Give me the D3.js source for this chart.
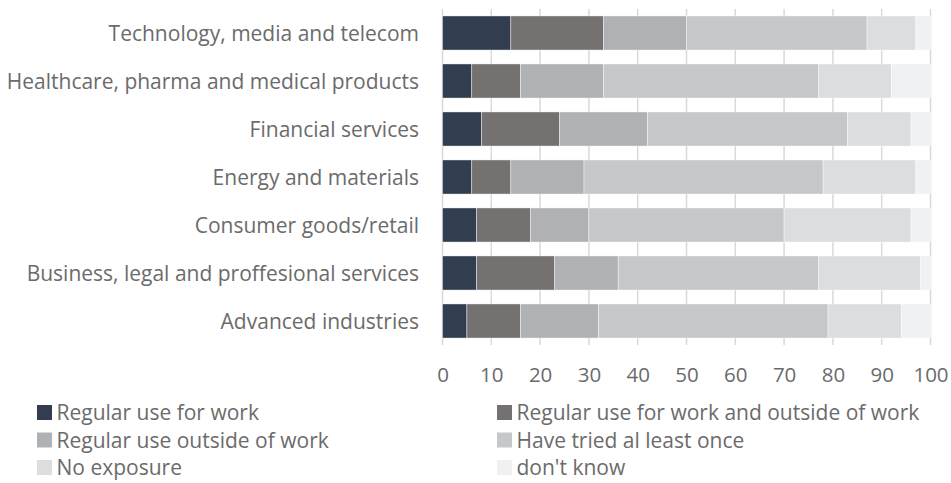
<!DOCTYPE html>
<html>
<head>
<meta charset="utf-8">
<script src="https://cdn.jsdelivr.net/npm/d3@7"></script>
<style>
  html, body { margin: 0; padding: 0; background: #fff; }
  svg { display: block; }
  text { font-family: "Open Sans", Lato, sans-serif; fill: #6b6b6b; }
</style>
</head>
<body>
<svg id="chart" width="951" height="483"></svg>
<script>
const categories = [
  "Technology, media and telecom",
  "Healthcare, pharma and medical products",
  "Financial services",
  "Energy and materials",
  "Consumer goods/retail",
  "Business, legal and proffesional services",
  "Advanced industries"
];
const seriesNames = [
  "Regular use for work",
  "Regular use for work and outside of work",
  "Regular use outside of work",
  "Have tried al least once",
  "No exposure",
  "don't know"
];
const regularWork      = [14, 6, 8, 6, 7, 7, 5];
const regularBoth      = [19, 10, 16, 8, 11, 16, 11];
const regularOutside   = [17, 17, 18, 15, 12, 13, 16];
const triedOnce        = [37, 44, 41, 49, 40, 41, 47];
const noExposure       = [10, 15, 13, 19, 26, 21, 15];
const dontKnow         = [3, 8, 4, 3, 4, 2, 6];
const tickValues = [0, 10, 20, 30, 40, 50, 60, 70, 80, 90, 100];

const colors = ["#323e50", "#757170", "#b0b1b4", "#c6c7c9", "#dcdddf", "#f0f1f3"];
const seriesValues = [regularWork, regularBoth, regularOutside, triedOnce, noExposure, dontKnow];

const rows = categories.map((c, i) => {
  const r = { category: c };
  seriesNames.forEach((s, j) => r[s] = seriesValues[j][i]);
  return r;
});
const stacked = d3.stack().keys(seriesNames)(rows);

const svg = d3.select("#chart");
const x = d3.scaleLinear().domain([0, 100]).range([442.5, 930.5]);
const y = d3.scaleBand().domain(categories).range([9, 345]).paddingInner(0.29).paddingOuter(0.145);

// gridlines
svg.append("g").selectAll("line").data(tickValues).join("line")
  .attr("x1", d => x(d)).attr("x2", d => x(d))
  .attr("y1", 9).attr("y2", 345)
  .attr("stroke", "#d9d9d9").attr("stroke-width", 1.5);

// bars
svg.append("g").selectAll("g").data(stacked).join("g")
  .attr("fill", (d, i) => colors[i])
  .selectAll("rect").data(d => d).join("rect")
  .attr("x", d => x(d[0]))
  .attr("width", d => x(d[1]) - x(d[0]))
  .attr("y", d => y(d.data.category))
  .attr("height", y.bandwidth())
  .attr("stroke", "#ffffff").attr("stroke-width", 0.6).attr("stroke-opacity", 0.7);

// category labels
svg.append("g").selectAll("text").data(categories).join("text")
  .attr("x", 419)
  .attr("y", d => y(d) + y.bandwidth() / 2)
  .attr("dy", "0.36em")
  .attr("text-anchor", "end")
  .attr("font-size", 21)
  .text(d => d);

// x axis labels
const xAxis = d3.axisBottom(x).tickValues(tickValues).tickSize(0).tickPadding(0);
const ax = svg.append("g").attr("transform", "translate(0,367)").call(xAxis);
ax.select(".domain").remove();
ax.selectAll("text").attr("font-size", 20.5).attr("dy", "0.72em")
  .style("font-family", "'Open Sans', Lato, sans-serif").attr("fill", "#6b6b6b");

// legend
const legendPos = seriesNames.map((s, i) => ({
  name: s, color: colors[i],
  col: i % 2, row: Math.floor(i / 2)
}));
const colX = [37, 497];
const rowBase = [420, 447.5, 475];
const lg = svg.append("g").selectAll("g").data(legendPos).join("g")
  .attr("transform", d => `translate(${colX[d.col]},${rowBase[d.row]})`);
lg.append("rect").attr("x", 0).attr("y", -15).attr("width", 15).attr("height", 15)
  .attr("fill", d => d.color);
lg.append("text").attr("x", 19.5).attr("y", 0).attr("font-size", 21).text(d => d.name);
</script>
</body>
</html>
